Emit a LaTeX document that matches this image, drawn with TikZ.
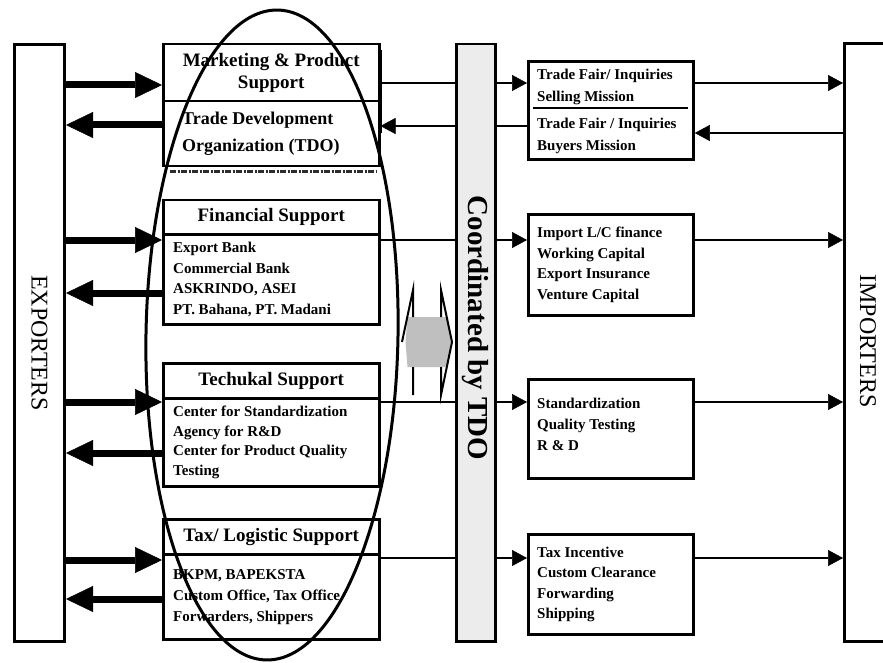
\documentclass[tikz,border=0pt]{standalone}
\usepackage{fontspec}
\setmainfont{Liberation Serif}
\usetikzlibrary{arrows.meta,shapes.geometric}
\begin{document}
\begin{tikzpicture}[x=1pt,y=-1pt,
  frame/.style={draw, line width=2.5pt, fill=white, inner sep=0pt, anchor=north west},
  bigR/.style={line width=7pt, -{Triangle[length=27pt,width=26pt,line width=0.5pt]}},
  thinline/.style={line width=1.8pt},
  thinA/.style={line width=1.8pt, -{Triangle[length=15pt,width=16pt,line width=0.5pt]}},
  hdr/.style={font=\bfseries\fontsize{19}{22}\selectfont, align=center},
  bodytxt/.style={font=\bfseries\fontsize{15}{20.5}\selectfont, align=left, anchor=west, inner sep=0pt},
  sidelbl/.style={rotate=-90, font=\fontsize{24}{24}\selectfont, inner sep=0pt},
]
\clip (0,0) rectangle (883,663);
\fill[white] (0,0) rectangle (883,663);

% side boxes
\node[frame, line width=3pt, minimum width=50pt, minimum height=597pt] (exp) at (13,43) {};
\node[sidelbl] (expl) at (exp.center) {EXPORTERS};
\node[frame, line width=3pt, minimum width=60pt, minimum height=598pt] (imp) at (843,42) {};
\node[sidelbl] (impl) at (868,341) {IMPORTERS};

% coordination strip
\node[frame, fill=gray!15, minimum width=39pt, minimum height=597pt] (strip) at (455,43) {};
\node[rotate=-90, font=\bfseries\fontsize{29}{29}\selectfont, inner sep=0pt] (coord) at (475,328) {Coordinated by TDO};

% left column
\draw[line width=4pt] (380,50) -- (380,133);
\node[frame, hdr, minimum width=216pt, minimum height=57pt] (mkh) at (162,43) {Marketing \& Product\\Support};
\node[frame, minimum width=216pt, minimum height=65pt] (mkb) at (162,100) {};
\node[bodytxt, font=\bfseries\fontsize{18}{27}\selectfont] (mkt) at ([xshift=20pt]mkb.west) {Trade Development\\Organization (TDO)};
\draw[gray!35!black, line width=3pt, dash pattern=on 6pt off 1.5pt on 2pt off 1.5pt] (170,172) -- (376,172);

\node[frame, hdr, minimum width=216pt, minimum height=34pt] (finh) at (162,199) {Financial Support};
\node[frame, minimum width=216pt, minimum height=90pt] (finb) at (162,233) {};
\node[bodytxt] (fint) at ([xshift=11pt]finb.west) {Export Bank\\Commercial Bank\\ASKRINDO, ASEI\\PT. Bahana, PT. Madani};

\node[frame, hdr, minimum width=216pt, minimum height=35pt] (tech) at (162,362) {Techukal Support};
\node[frame, minimum width=216pt, minimum height=88pt] (tecb) at (162,397) {};
\node[bodytxt, font=\bfseries\fontsize{15}{19.5}\selectfont] (tect) at ([xshift=11pt]tecb.west) {Center for Standardization\\Agency for R\&D\\Center for Product Quality\\Testing};

\node[frame, hdr, minimum width=216pt, minimum height=35pt] (taxh) at (162,518) {Tax/ Logistic Support};
\node[frame, minimum width=216pt, minimum height=85pt] (taxb) at (162,553) {};
\node[bodytxt, font=\bfseries\fontsize{15}{21}\selectfont] (taxt) at ([xshift=11pt]taxb.west) {BKPM, BAPEKSTA\\Custom Office, Tax Office\\Forwarders, Shippers};

% right column
\node[frame, line width=2.8pt, minimum width=165pt, minimum height=98pt] (rb1) at (527,60) {};
\node[bodytxt, font=\bfseries\fontsize{15}{22}\selectfont] (rb1a) at (537,87) {Trade Fair/ Inquiries\\Selling Mission};
\node[bodytxt, font=\bfseries\fontsize{15}{22}\selectfont] (rb1b) at (537,136) {Trade Fair / Inquiries\\Buyers Mission};
\draw[line width=1.2pt] (533,108) -- (688,108);

\node[frame, line width=2.8pt, minimum width=165pt, minimum height=101pt] (rb2) at (527,213) {};
\node[bodytxt] (rb2t) at ([xshift=10pt]rb2.west) {Import L/C finance\\Working Capital\\Export Insurance\\Venture Capital};

\node[frame, line width=2.8pt, minimum width=165pt, minimum height=99pt] (rb3) at (527,378) {};
\node[bodytxt, font=\bfseries\fontsize{15}{21}\selectfont] (rb3t) at (537,424) {Standardization\\Quality Testing\\R \& D};

\node[frame, line width=2.8pt, minimum width=165pt, minimum height=100pt] (rb4) at (527,533) {};
\node[bodytxt] (rb4t) at ([xshift=10pt]rb4.west) {Tax Incentive\\Custom Clearance\\Forwarding\\Shipping};

% thick arrows exporters <-> support boxes
\draw[bigR] (exp.east |- 0,85) -- (mkh.west |- 0,85);
\draw[bigR] (mkb.west |- 0,125) -- (exp.east |- 0,125);
\draw[bigR] (exp.east |- 0,240) -- (finb.west |- 0,240);
\draw[bigR] (finb.west |- 0,293) -- (exp.east |- 0,293);
\draw[bigR] (exp.east |- 0,402) -- (tecb.west |- 0,402);
\draw[bigR] (tecb.west |- 0,453) -- (exp.east |- 0,453);
\draw[bigR] (exp.east |- 0,560) -- (taxb.west |- 0,560);
\draw[bigR] (taxb.west |- 0,599) -- (exp.east |- 0,599);

% thin connectors
\draw[thinline] (mkh.east |- 0,83) -- (strip.west |- 0,83);
\draw[thinA] (strip.east |- 0,83) -- (rb1.west |- 0,83);
\draw[thinA] (rb1.east |- 0,83) -- (imp.west |- 0,83);
\draw[thinA] (imp.west |- 0,133) -- (rb1.east |- 0,133);
\draw[thinline] (rb1.west |- 0,126) -- (strip.east |- 0,126);
\draw[thinA] (strip.west |- 0,126) -- (mkb.east |- 0,126);

\draw[thinline] (finb.east |- 0,240) -- (strip.west |- 0,240);
\draw[thinA] (strip.east |- 0,240) -- (rb2.west |- 0,240);
\draw[thinA] (rb2.east |- 0,240) -- (imp.west |- 0,240);

\draw[thinline] (tecb.east |- 0,402) -- (strip.west |- 0,402);
\draw[thinA] (strip.east |- 0,402) -- (rb3.west |- 0,402);
\draw[thinA] (rb3.east |- 0,402) -- (imp.west |- 0,402);

\draw[thinline] (taxb.east |- 0,558) -- (strip.west |- 0,558);
\draw[thinA] (strip.east |- 0,558) -- (rb4.west |- 0,558);
\draw[thinA] (rb4.east |- 0,558) -- (imp.west |- 0,558);

% double arrow
\fill[white] (402,342) -- (413,290) -- (413,317) -- (441,317) -- (441,290) -- (452,342)
  -- (441,395) -- (441,367) -- (413,367) -- (413,395) -- cycle;
\fill[gray!50] (405.5,342) -- (407.5,317) -- (446.5,317) -- (451,342) -- (446.5,367) -- (407.5,367) -- cycle;
\draw[line width=2pt, line join=miter] (402,342) -- (413,290) -- (413,317) (441,317) -- (441,290) -- (452,342)
  -- (441,395) -- (441,367) (413,367) -- (413,395) -- cycle;
\coordinate (dbl) at (427,342);

% ellipse
\node[draw, ellipse, line width=3pt, minimum width=252pt, minimum height=650pt, rotate=-1, inner sep=0pt] (oval) at (272,335) {};
\end{tikzpicture}
\end{document}
